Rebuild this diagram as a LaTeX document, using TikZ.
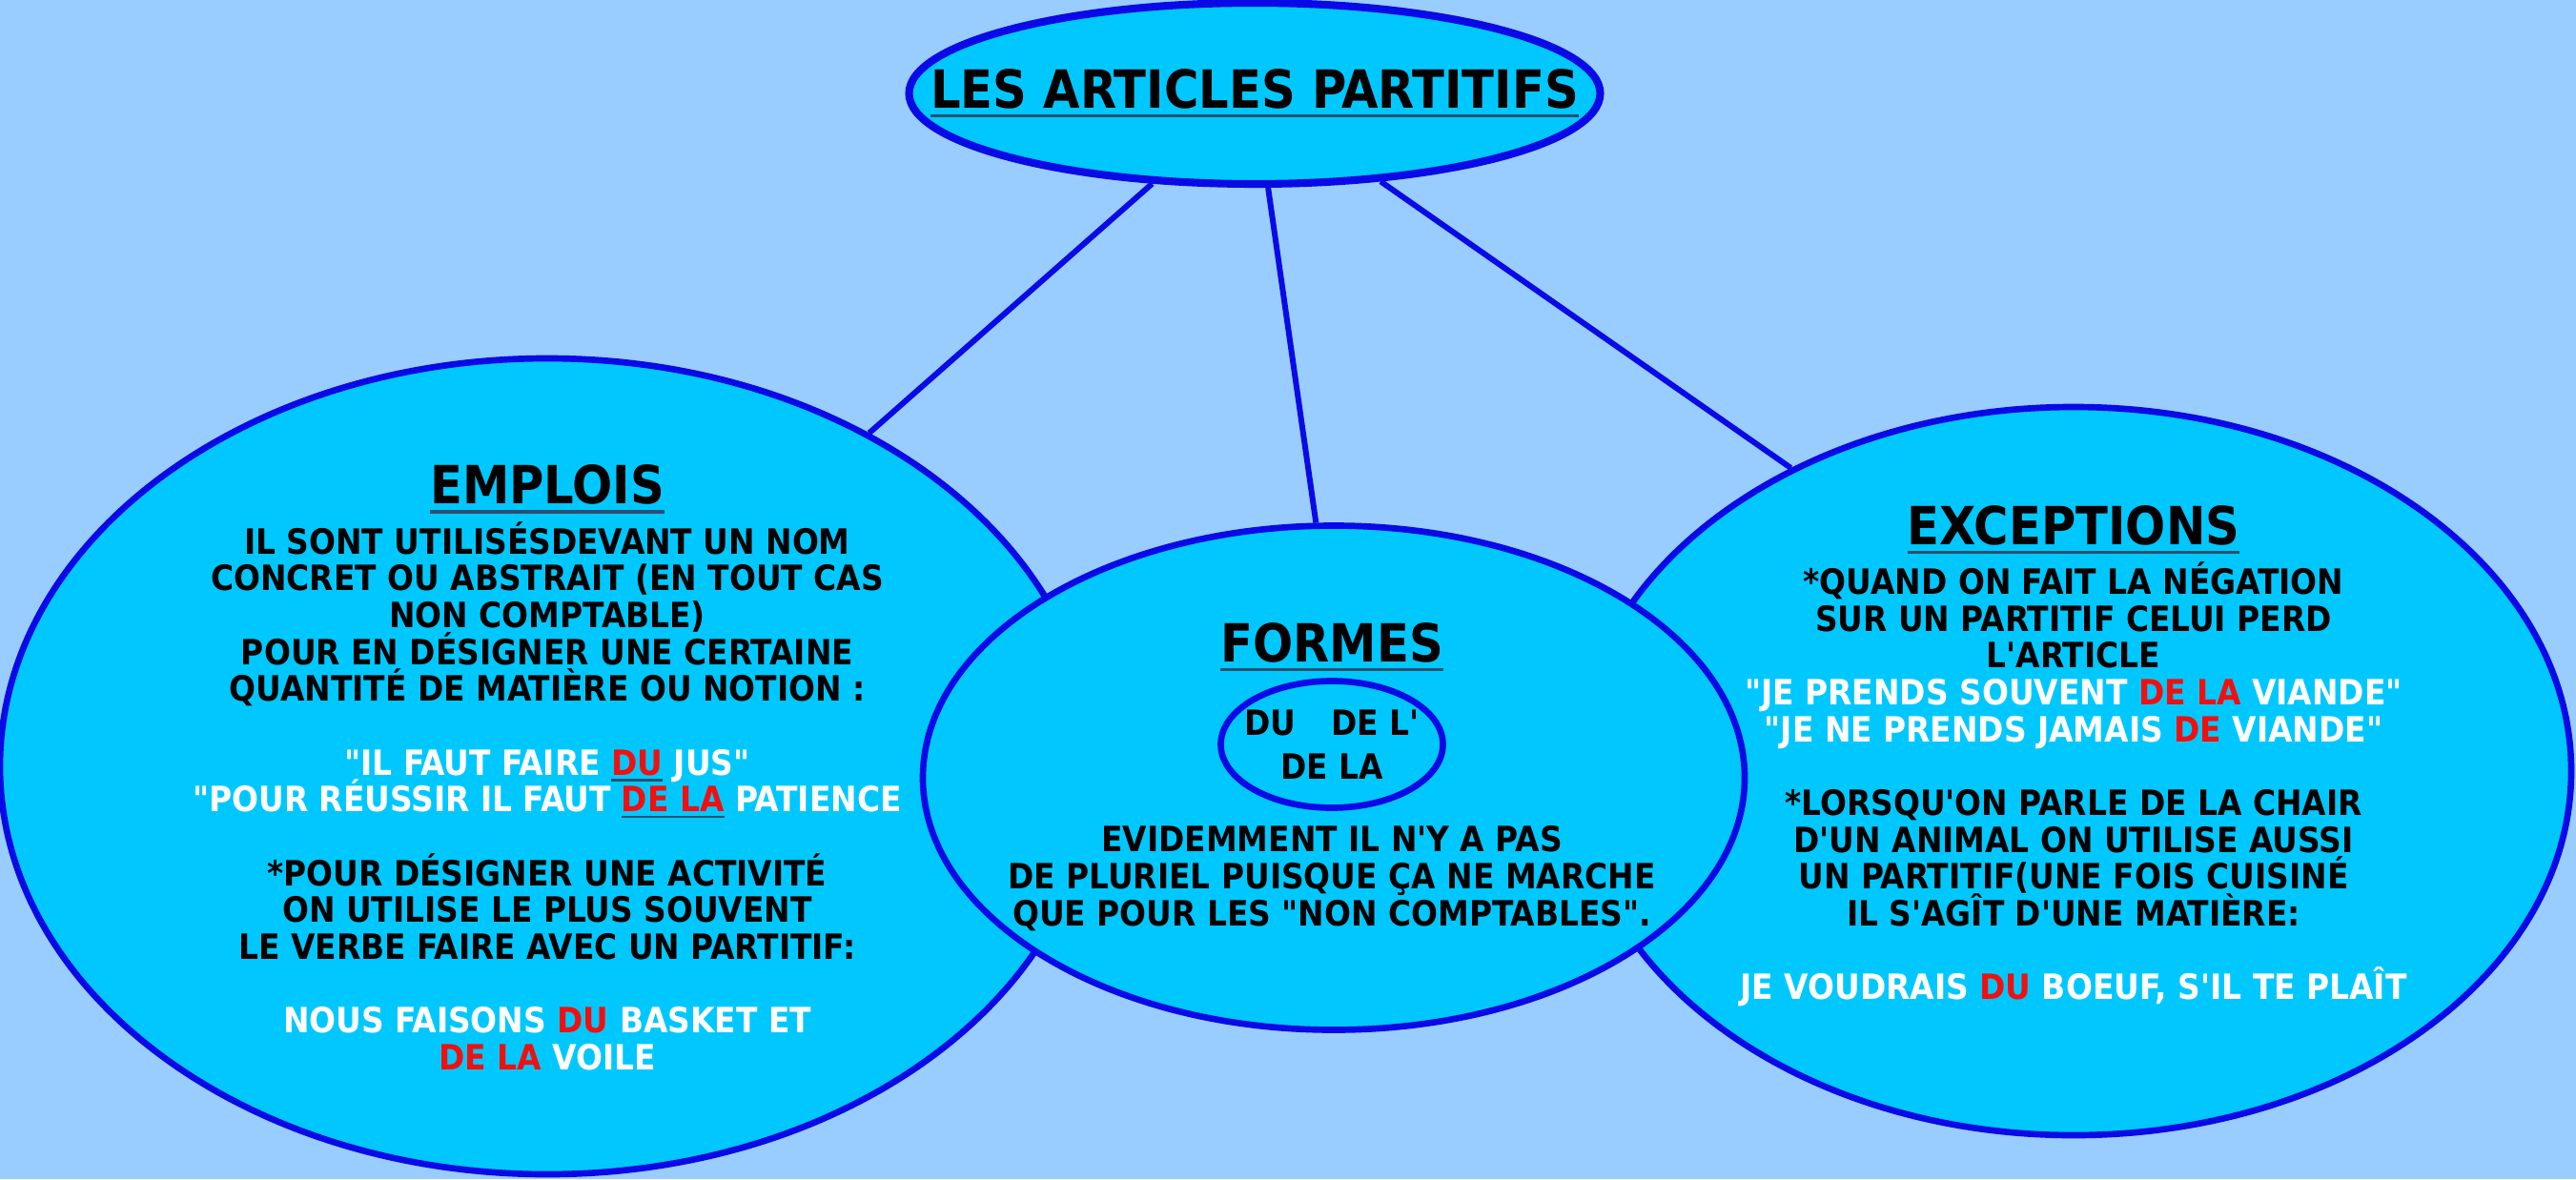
\documentclass[tikz,border=0pt]{standalone}
\usepackage{fontspec}
\setmainfont{DejaVu Sans Condensed}[Ligatures=TeXOff]
\usepackage{xcolor}
\usetikzlibrary{shapes.geometric,positioning}
\definecolor{fondcolor}{HTML}{99CCFF}
\definecolor{bullecolor}{HTML}{00C8FF}
\definecolor{bordcolor}{HTML}{0A0AE6}
\definecolor{rougecolor}{HTML}{F01010}
\definecolor{soulignecolor}{HTML}{2A5070}
\newsavebox{\soulignebox}
\newcommand{\souligne}[1]{\sbox{\soulignebox}{#1}\rlap{\color{soulignecolor}\rule[-0.18em]{\wd\soulignebox}{0.06em}}\usebox{\soulignebox}}
\newcommand{\enrouge}[1]{\textcolor{rougecolor}{#1}}
\newcommand{\enblanc}[1]{\textcolor{white}{#1}}
\newcommand{\serre}{\setlength{\lineskiplimit}{-10pt}}

\begin{document}
\begin{tikzpicture}[
    bulle/.style={ellipse, draw=bordcolor, line width=1.9pt,
                  fill=bullecolor, inner sep=0pt},
    lien/.style={draw=bordcolor, line width=1.7pt},
    entete/.style={inner sep=0pt, font=\bfseries\fontsize{15.7}{18}\selectfont},
    texte/.style={inner sep=0pt, align=center,
                  font=\bfseries\fontsize{10.4}{11}\selectfont\serre}
]
\fill[fondcolor] (0,0) rectangle (27.02,12.37);
\useasboundingbox (0,0) rectangle (27.02,12.37);
\node[bulle, line width=2.3pt, minimum width=7.25cm, minimum height=1.9cm] (titre) at (13.16,11.39) {};
\node[bulle, minimum width=11.48cm, minimum height=8.56cm] (emplois) at (5.74,4.33) {};
\node[bulle, minimum width=10.44cm, minimum height=7.64cm] (exceptions) at (21.75,4.28) {};
\node[bulle, minimum width=8.62cm, minimum height=5.29cm] (formes) at (13.99,4.21) {};
\draw[lien] (titre) -- (emplois.46);
\draw[lien] (titre) -- (formes.94);
\draw[lien] (titre) -- (exceptions.133);

\node[entete] (titretexte) at (titre.center) {\souligne{LES ARTICLES PARTITIFS}};

% emplois
\node[texte] (emploistexte) at (5.74,4.02) {IL SONT UTILISÉSDEVANT UN NOM\\
CONCRET OU ABSTRAIT (EN TOUT CAS\\
NON COMPTABLE)\\
POUR EN DÉSIGNER UNE CERTAINE\\
QUANTITÉ DE MATIÈRE OU NOTION :\\[11pt]
\enblanc{"IL FAUT FAIRE \enrouge{\souligne{DU}} JUS"}\\
\enblanc{"POUR RÉUSSIR IL FAUT \enrouge{\souligne{DE LA}} PATIENCE}\\[11pt]
*POUR DÉSIGNER UNE ACTIVITÉ\\
ON UTILISE LE PLUS SOUVENT\\
LE VERBE FAIRE AVEC UN PARTITIF:\\[11pt]
\enblanc{NOUS FAISONS \enrouge{DU} BASKET ET}\\
\enblanc{\enrouge{DE LA} VOILE}};
\node[entete, above=0.07cm of emploistexte] (emploistitre) {\souligne{EMPLOIS}};

% formes
\node[bulle, minimum width=2.33cm, minimum height=1.33cm, inner xsep=-0.1cm, align=center,
      font=\bfseries\fontsize{10.4}{11}\selectfont] (formesrond) at (13.97,4.56) {DU\quad DE L'\\[2pt] DE LA};
\node[entete, above=0.06cm of formesrond] (formestitre) {\souligne{FORMES}};
\node[texte, below=0.15cm of formesrond] (formestexte) {EVIDEMMENT IL N'Y A PAS\\
DE PLURIEL PUISQUE ÇA NE MARCHE\\
QUE POUR LES "NON COMPTABLES".};

% exceptions
\node[texte] (exceptionstexte) at (21.75,4.14) {*QUAND ON FAIT LA NÉGATION\\
SUR UN PARTITIF CELUI PERD\\
L'ARTICLE\\
\enblanc{"JE PRENDS SOUVENT \enrouge{DE LA} VIANDE"}\\
\enblanc{"JE NE PRENDS JAMAIS \enrouge{DE} VIANDE"}\\[11pt]
*LORSQU'ON PARLE DE LA CHAIR\\
D'UN ANIMAL ON UTILISE AUSSI\\
UN PARTITIF(UNE FOIS CUISINÉ\\
IL S'AGÎT D'UNE MATIÈRE:\\[11pt]
\enblanc{JE VOUDRAIS \enrouge{DU} BOEUF, S'IL TE PLAÎT}};
\node[entete, above=0.07cm of exceptionstexte] (exceptionstitre) {\souligne{EXCEPTIONS}};
\end{tikzpicture}
\end{document}
